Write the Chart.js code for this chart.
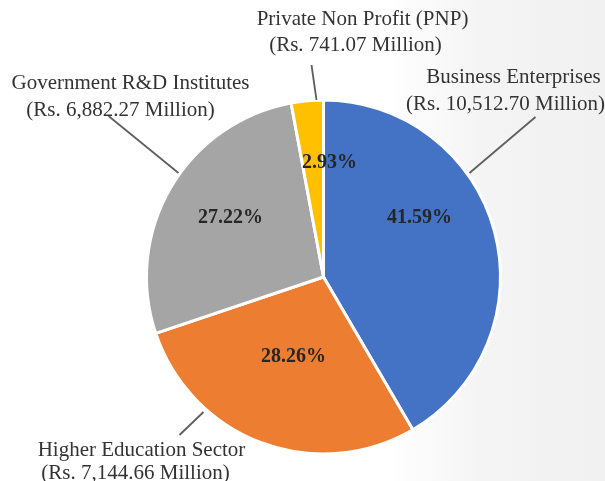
<!DOCTYPE html>
<html>
<head>
<meta charset="utf-8">
<script src="https://cdn.jsdelivr.net/npm/chart.js@4"></script>
<style>
  html, body { margin: 0; padding: 0; }
  body {
    width: 605px; height: 481px; overflow: hidden;
    background: linear-gradient(to right, #ffffff 0%, #ffffff 64%, #f5f4f5 80%, #f2f1f2 100%);
  }
  #wrap { position: relative; width: 605px; height: 481px; }
</style>
</head>
<body>
<div id="wrap"><canvas id="rd-pie" width="605" height="481"></canvas></div>
<script>
// R&D expenditure by sector

const sectors = ['Business Enterprises', 'Higher Education Sector', 'Government R&D Institutes', 'Private Non Profit (PNP)'];
const amountLabels = ['(Rs. 10,512.70 Million)', '(Rs. 7,144.66 Million)', '(Rs. 6,882.27 Million)', '(Rs. 741.07 Million)'];
const amounts = [10512.70, 7144.66, 6882.27, 741.07];
const percentLabels = ['41.59%', '28.26%', '27.22%', '2.93%'];
const sliceColors = ['#4472C4', '#ED7D31', '#A5A5A5', '#FFC000'];

// where callouts sit, relative to the pie centre (px)
const calloutStyle = [
    { line: [[146, -104], [212, -160]], text: [[190, -200], [182, -173]], pct: [96, -59] },
    { line: [[-120, 135], [-144, 158]], text: [[-182, 173], [-188, 196]], pct: [-30, 80] },
    { line: [[-145, -104], [-215, -161]], text: [[-193, -194], [-203, -167]], pct: [-93, -59] },
    { line: [[-7, -177], [-12, -212]], text: [[39, -258], [32, -232]], pct: [6, -114] },
];

const calloutPlugin = {
    id: 'callouts',
    afterDatasetsDraw(chart) {
        const ctx = chart.ctx;
        const arcs = chart.getDatasetMeta(0).data;
        ctx.save();
        arcs.forEach((arc, i) => {
            const cx = arc.x, cy = arc.y;
            const s = calloutStyle[i];

            // leader line
            ctx.strokeStyle = '#5f5f5f';
            ctx.lineWidth = 1.8;
            ctx.beginPath();
            ctx.moveTo(cx + s.line[0][0], cy + s.line[0][1]);
            ctx.lineTo(cx + s.line[1][0], cy + s.line[1][1]);
            ctx.stroke();

            // outside label
            ctx.fillStyle = '#333333';
            ctx.textAlign = 'center';
            ctx.textBaseline = 'middle';
            ctx.font = '21px "Liberation Serif", "DejaVu Serif", serif';
            ctx.fillText(sectors[i], cx + s.text[0][0], cy + s.text[0][1]);
            ctx.fillText(amountLabels[i], cx + s.text[1][0], cy + s.text[1][1]);

            // percentage inside slice
            ctx.fillStyle = '#262626';
            ctx.font = 'bold 20px "Liberation Serif", "DejaVu Serif", serif';
            ctx.fillText(percentLabels[i], cx + s.pct[0], cy + s.pct[1]);
        });
        ctx.restore();
    }
};

const ctx = document.getElementById('rd-pie').getContext('2d');

new Chart(ctx, {
    type: 'pie',
    data: {
        labels: sectors,
        datasets: [{
            data: amounts,
            backgroundColor: sliceColors,
            borderColor: '#ffffff',
            borderWidth: 3,
        }],
    },
    options: {
        responsive: false,
        animation: false,
        radius: 177,
        layout: { padding: { left: 146, right: 104, top: 99, bottom: 26 } },
        plugins: {
            legend: { display: false },
            tooltip: { enabled: false },
        },
    },
    plugins: [calloutPlugin],
});
</script>
</body>
</html>
